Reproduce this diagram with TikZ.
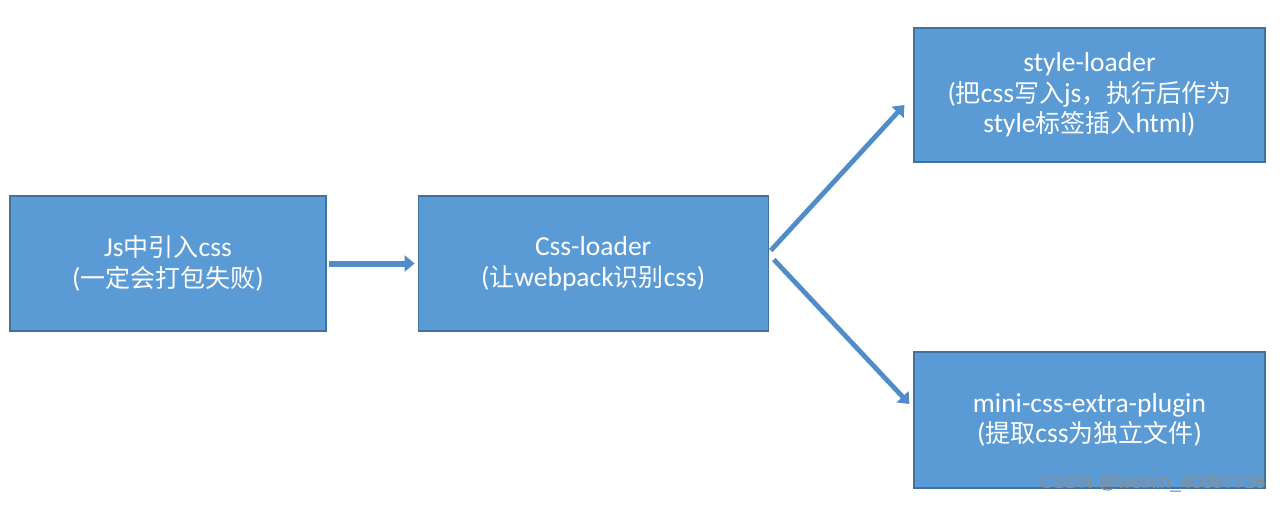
\documentclass[tikz,border=0pt]{standalone}
\usepackage{fontspec}
\setmainfont{Carlito}[Scale=1.1]
\newfontfamily\cjk{Noto Sans CJK SC}
\newfontfamily\markfont{Liberation Sans}
\usepackage{tikz}
\usetikzlibrary{positioning}
\usetikzlibrary{arrows.meta}

\definecolor{boxblue}{HTML}{5B9BD5}
\definecolor{boxedge}{HTML}{41719C}
\definecolor{arrowblue}{HTML}{4F8CC9}

\begin{document}
\begin{tikzpicture}[x=0.5pt, y=-0.5pt,
    stage/.style = {rectangle, draw=boxedge, fill=boxblue, line width=0.6pt,
        text=white, align=center, font=\fontsize{12.5}{15.2}\selectfont,
        minimum height=67.5pt, inner sep=0pt},
    flow/.style = {draw=arrowblue, line width=2.4pt,
        -{Triangle[width=8pt,length=5pt]}},
    node distance=45.5pt]
    \useasboundingbox (0,0) rectangle (1282,505);
    \node [stage, minimum width=158pt] (js) at (168,263.5)
        {Js{\cjk 中引入}css\\({\cjk 一定会打包失败})};
    \node [stage, minimum width=175pt, right=of js] (cssloader)
        {Css-loader\\({\cjk 让}webpack{\cjk 识别}css)};
    \node [stage, minimum width=175.5pt, minimum height=67pt] (styleloader) at (1089.5,95)
        {style-loader\\({\cjk 把}css{\cjk 写入}js{\cjk ，执行后作为}\\style{\cjk 标签插入}html)};
    \node [stage, minimum width=175.5pt, minimum height=68pt] (extract) at (1089.5,420)
        {mini-css-extra-plugin\\({\cjk 提取}css{\cjk 为独立文件})};
    % arrows
    \draw [flow, line width=3pt] ([xshift=1pt]js.east) -- ([xshift=-1.5pt]cssloader.west);
    \draw [flow] ([shift={(2,-13)}]cssloader.east) -- ([shift={(-9,10)}]styleloader.west);
    \draw [flow] ([shift={(5,-4)}]cssloader.east) -- ([shift={(-4,-16)}]extract.west);
    % watermark
    \node [anchor=south east, text=black!45, inner sep=0pt,
        font=\markfont\fontsize{9.5}{10}\selectfont] (mark) at (1266,493)
        {CSDN @weixin\_40397716};
\end{tikzpicture}
\end{document}
